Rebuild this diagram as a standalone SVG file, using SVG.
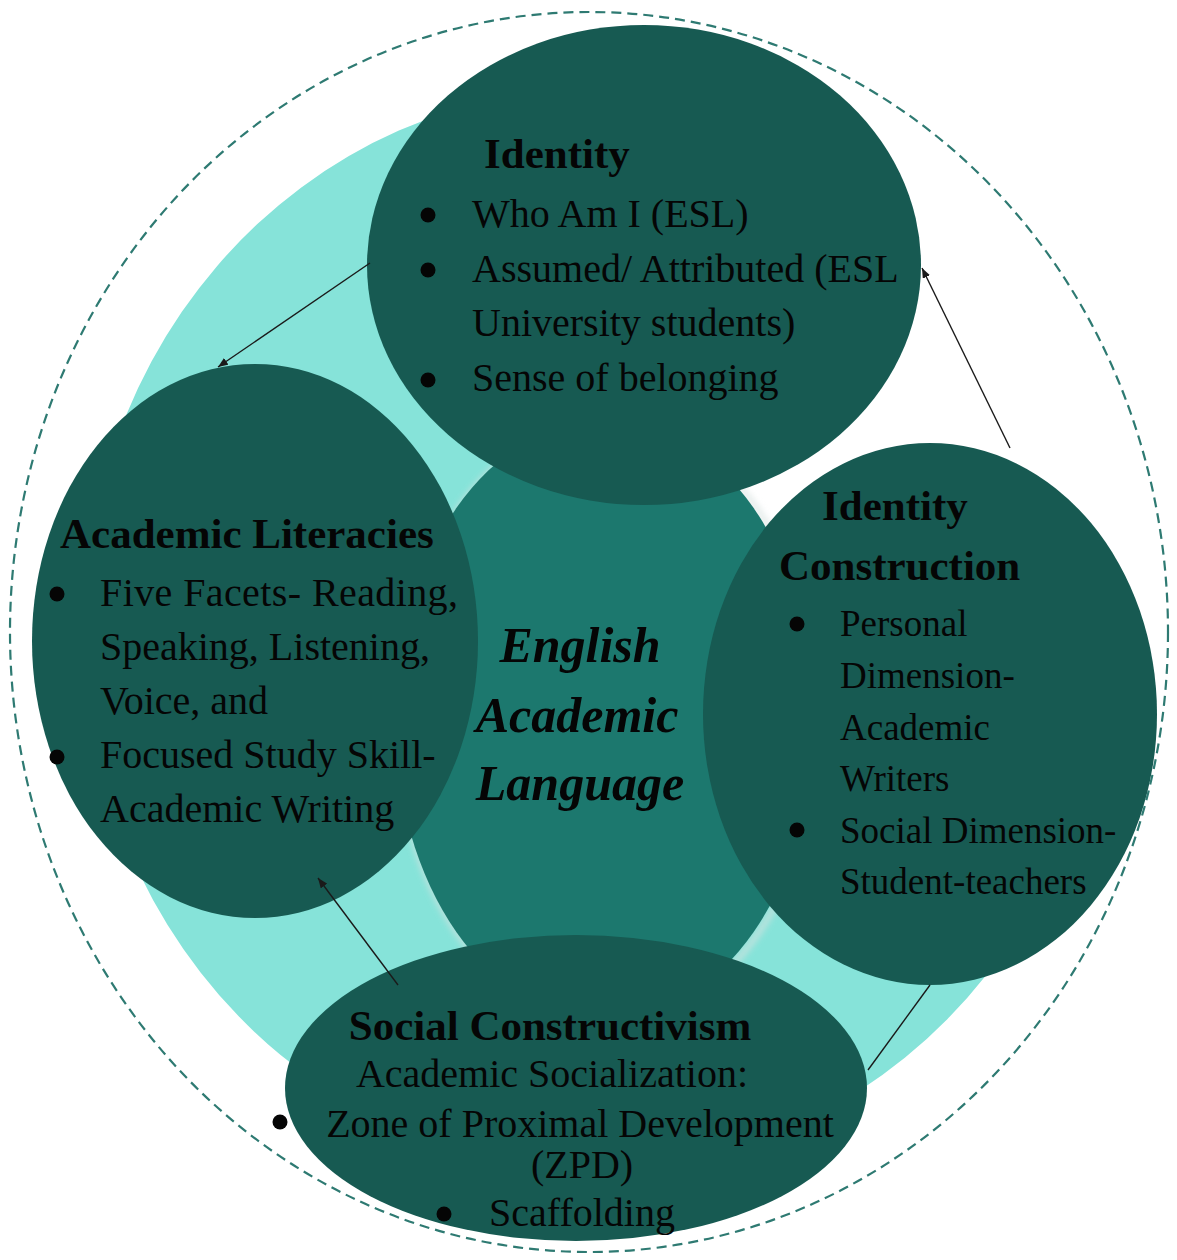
<svg xmlns="http://www.w3.org/2000/svg" width="1177" height="1260" viewBox="0 0 1177 1260">
<style>
.node{fill:#175A52}
.t{font-family:"Liberation Serif","Times New Roman",serif;fill:#050505;font-size:40px}
.r{font-size:37px}
.h{font-weight:bold;font-size:43px}
.c{font-weight:bold;font-style:italic;font-size:50px}
.bul{fill:#050505}
.conn{stroke:#1a1a1a;stroke-width:1.4;fill:none}
.mid{text-anchor:middle}
</style>
<defs>
<marker id="arr" viewBox="0 0 10 8" refX="10" refY="4" markerWidth="10" markerHeight="8" markerUnits="userSpaceOnUse" orient="auto">
<path d="M0,0 L10,4 L0,8 z" fill="#1a1a1a"/>
</marker>
<filter id="glow" x="-20%" y="-20%" width="140%" height="140%">
<feGaussianBlur stdDeviation="3"/>
</filter>
</defs>
<rect width="1177" height="1260" fill="#ffffff"/>
<g id="backdrop">
<path d="M1104,650 A510,540 0 1 1 880,182 L650,400 L605,700 L900,700 Z" fill="#86E3D9"/>
</g>
<g id="english-academic-language">
<ellipse cx="608" cy="722" rx="211" ry="301" fill="none" stroke="#d9e3e1" stroke-width="6" opacity="0.7" filter="url(#glow)"/>
<ellipse cx="605" cy="720" rx="210" ry="300" fill="#1C786E"/>
<text class="t c mid" x="580" y="662">English</text>
<text class="t c mid" x="577" y="732">Academic</text>
<text class="t c mid" x="580" y="800">Language</text>
</g>
<g id="identity">
<ellipse class="node" cx="644" cy="265" rx="277" ry="240"/>
<text class="t h" x="484" y="168">Identity</text>
<circle class="bul" cx="428" cy="215" r="7.5"/>
<circle class="bul" cx="428" cy="270" r="7.5"/>
<circle class="bul" cx="428" cy="380" r="7.5"/>
<text class="t" x="472" y="227">Who Am I (ESL)</text>
<text class="t" x="472" y="282">Assumed/ Attributed (ESL</text>
<text class="t" x="472" y="336">University students)</text>
<text class="t" x="472" y="391">Sense of belonging</text>
</g>
<g id="academic-literacies">
<ellipse class="node" cx="255" cy="641" rx="223" ry="277"/>
<text class="t h" x="60" y="548">Academic Literacies</text>
<circle class="bul" cx="57" cy="594" r="7.5"/>
<circle class="bul" cx="57" cy="757" r="7.5"/>
<text class="t" x="100" y="606" textLength="358" lengthAdjust="spacing">Five  Facets- Reading,</text>
<text class="t" x="100" y="660">Speaking, Listening,</text>
<text class="t" x="100" y="714">Voice, and</text>
<text class="t" x="100" y="768">Focused Study Skill-</text>
<text class="t" x="100" y="822">Academic Writing</text>
</g>
<g id="identity-construction">
<ellipse class="node" cx="930" cy="714" rx="227" ry="271"/>
<text class="t h" x="822" y="520">Identity</text>
<text class="t h" x="779" y="580">Construction</text>
<circle class="bul" cx="797" cy="624" r="7.5"/>
<circle class="bul" cx="797" cy="830" r="7.5"/>
<text class="t r" x="840" y="636">Personal</text>
<text class="t r" x="840" y="688">Dimension-</text>
<text class="t r" x="840" y="740">Academic</text>
<text class="t r" x="840" y="791">Writers</text>
<text class="t r" x="840" y="843">Social Dimension-</text>
<text class="t r" x="840" y="894">Student-teachers</text>
</g>
<g id="social-constructivism">
<ellipse class="node" cx="576" cy="1088" rx="291" ry="153"/>
<text class="t h mid" x="550" y="1040">Social Constructivism</text>
<text class="t mid" x="552" y="1087">Academic Socialization:</text>
<circle class="bul" cx="280" cy="1122" r="7.5"/>
<text class="t mid" x="580" y="1137">Zone of Proximal Development</text>
<text class="t mid" x="582" y="1178">(ZPD)</text>
<circle class="bul" cx="444" cy="1214" r="7.5"/>
<text class="t mid" x="582" y="1226">Scaffolding</text>
</g>
<g id="connectors">
<line class="conn" x1="370" y1="263" x2="218" y2="367" marker-end="url(#arr)"/>
<line class="conn" x1="1010" y1="448" x2="922" y2="268" marker-end="url(#arr)"/>
<line class="conn" x1="398" y1="985" x2="318" y2="878" marker-end="url(#arr)"/>
<line class="conn" x1="930" y1="985" x2="868" y2="1070"/>
</g>
<g id="boundary">
<ellipse cx="589" cy="632" rx="579" ry="620" fill="none" stroke="#2E7A72" stroke-width="2.2" stroke-dasharray="10 6"/>
</g>
</svg>
